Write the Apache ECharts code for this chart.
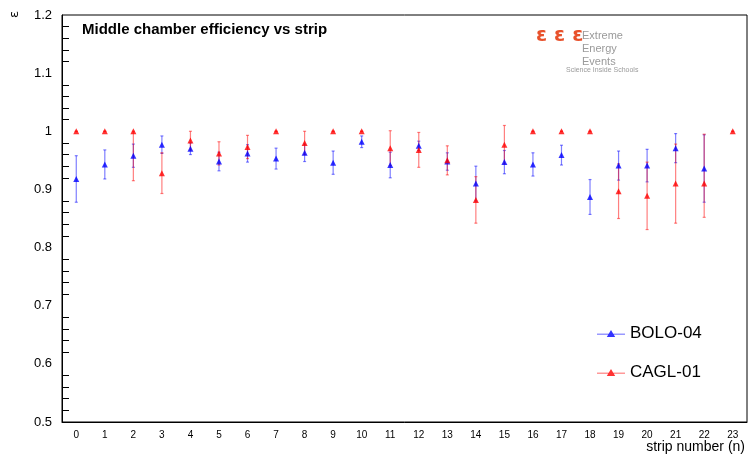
<!DOCTYPE html>
<html lang="en">
<head>
    <meta charset="UTF-8">
    <title>Middle chamber efficiency</title>
    <script src="https://cdn.jsdelivr.net/npm/echarts@6/dist/echarts.min.js"></script>
</head>
<style>
    html, body { margin: 0; height: 100%; background: #fff; }
</style>
<body>
<div id="main" style="width: 748px;height:457px"></div>
<script type="text/javascript">
    var strips = ['0','1','2','3','4','5','6','7','8','9','10','11','12','13','14','15','16','17','18','19','20','21','22','23'];
    // BOLO-04 (no point at strip 23)
    var boloVal = [0.918,0.943,0.958,0.977,0.970,0.948,0.962,0.953,0.963,0.946,0.982,0.942,0.975,0.948,0.910,0.947,0.943,0.959,0.887,0.941,0.941,0.971,0.936,null];
    var boloErr = [0.040,0.025,0.020,0.015,0.010,0.016,0.015,0.018,0.015,0.020,0.010,0.022,0.008,0.015,0.030,0.020,0.020,0.017,0.030,0.025,0.028,0.025,0.058,0];
    // CAGL-01
    var caglVal = [1,1,1,0.928,0.984,0.962,0.973,1,0.980,1,1,0.971,0.968,0.950,0.882,0.977,1,1,1,0.897,0.889,0.910,0.910,1];
    var caglLo  = [0,0,0.085,0.035,0.016,0.020,0.020,0,0.020,0,0,0.030,0.030,0.025,0.040,0.033,0,0,0,0.047,0.058,0.068,0.058,0];
    var caglHi  = [0,0,0,0.035,0.016,0.020,0.020,0,0.020,0,0,0.030,0.030,0.025,0.040,0.033,0,0,0,0.047,0.058,0.068,0.085,0];

    function errData(vals, lo, hi) {
        var out = [];
        for (var i = 0; i < vals.length; i++) {
            if (vals[i] == null) continue;
            out.push([i, vals[i] - lo[i], vals[i] + hi[i]]);
        }
        return out;
    }
    function errSeries(data, color) {
        return {
            type: 'custom', silent: true, z: 1,
            renderItem: function (params, api) {
                var x = api.value(0);
                var a = api.coord([x, api.value(1)]);
                var b = api.coord([x, api.value(2)]);
                var st = {stroke: color, lineWidth: 1.2, opacity: 0.5};
                return {type: 'group', children: [
                    {type: 'line', shape: {x1: a[0], y1: a[1], x2: b[0], y2: b[1]}, style: st},
                    {type: 'line', shape: {x1: a[0]-1.5, y1: a[1], x2: a[0]+1.5, y2: a[1]}, style: st},
                    {type: 'line', shape: {x1: b[0]-1.5, y1: b[1], x2: b[0]+1.5, y2: b[1]}, style: st}
                ]};
            },
            encode: {x: 0, y: [1, 2]},
            data: data
        };
    }

    // legend icon: short line with a small triangle in the middle
    var legIcon = 'path://M0,9.5L40,9.5L40,10.5L0,10.5Z M14,14L20,4L26,14Z';

    var myChart = echarts.init(document.getElementById('main'));
    var option = {
        animation: false,
        textStyle: {fontFamily: 'Liberation Sans, Arial, sans-serif'},
        grid: {left: 62, right: 1, top: 15, bottom: 35, outerBoundsMode: 'none', containLabel: false,
               show: true, borderColor: '#000', borderWidth: 1},
        xAxis: {
            type: 'category', data: strips, boundaryGap: true,
            name: 'strip number (n)', nameLocation: 'end', nameGap: 0,
            nameTextStyle: {fontSize: 14, color: '#000', align: 'right', verticalAlign: 'top', padding: [18, 2, 0, 0]},
            axisLine: {lineStyle: {color: '#000'}},
            axisTick: {alignWithLabel: true, inside: true, length: 12, lineStyle: {color: '#000'}},
            axisLabel: {color: '#000', fontSize: 10, margin: 8},
            splitLine: {show: false}
        },
        yAxis: {
            type: 'value', min: 0.5, max: 1.2, interval: 0.1,
            axisLine: {show: true, lineStyle: {color: '#000'}},
            axisTick: {inside: true, length: 14, lineStyle: {color: '#000'}},
            minorTick: {show: true, splitNumber: 5, length: 7, lineStyle: {color: '#000'}},
            axisLabel: {color: '#000', fontSize: 13, margin: 10, formatter: function (v) { return +v.toFixed(1) + ''; }},
            splitLine: {show: false}
        },
        legend: {
            orient: 'vertical', left: 592, top: 320, itemGap: 22, itemWidth: 28, itemHeight: 10,
            textStyle: {fontSize: 17, color: '#000'},
            data: [{name: 'BOLO-04', icon: legIcon}, {name: 'CAGL-01', icon: legIcon}]
        },
        graphic: [
            {type: 'text', left: 82, top: 22, style: {text: 'Middle chamber efficiency vs strip', font: 'bold 15px Liberation Sans, Arial', fill: '#000'}},
            {type: 'text', x: 8, y: 18, rotation: Math.PI / 2, style: {text: 'ε', font: '13px DejaVu Sans', fill: '#000'}},
            {type: 'text', left: 582, top: 29, style: {text: 'Extreme\nEnergy\nEvents', font: '11px Liberation Sans', lineHeight: 13, fill: '#9a9a9a'}},
            {type: 'text', left: 566, top: 67, style: {text: 'Science Inside Schools', font: '7px Liberation Sans', fill: '#9a9a9a'}},
            {type: 'text', left: 536, top: 26, style: {text: 'ε ε ε', font: 'bold 20px DejaVu Sans', fill: '#e8502a'}}
        ],
        series: [
            errSeries(errData(boloVal, boloErr, boloErr), '#0000ff'),
            errSeries(errData(caglVal, caglLo, caglHi), '#ff0000'),
            {name: 'BOLO-04', type: 'scatter', symbol: 'triangle', symbolSize: 6, z: 3,
             itemStyle: {color: '#0000ff'}, data: boloVal.map(function (v, i) { return v == null ? null : [i, v]; })},
            {name: 'CAGL-01', type: 'scatter', symbol: 'triangle', symbolSize: 6, z: 4,
             itemStyle: {color: '#ff0000'}, data: caglVal.map(function (v, i) { return [i, v]; })}
        ]
    };
    myChart.setOption(option);
</script>
</body>
</html>
